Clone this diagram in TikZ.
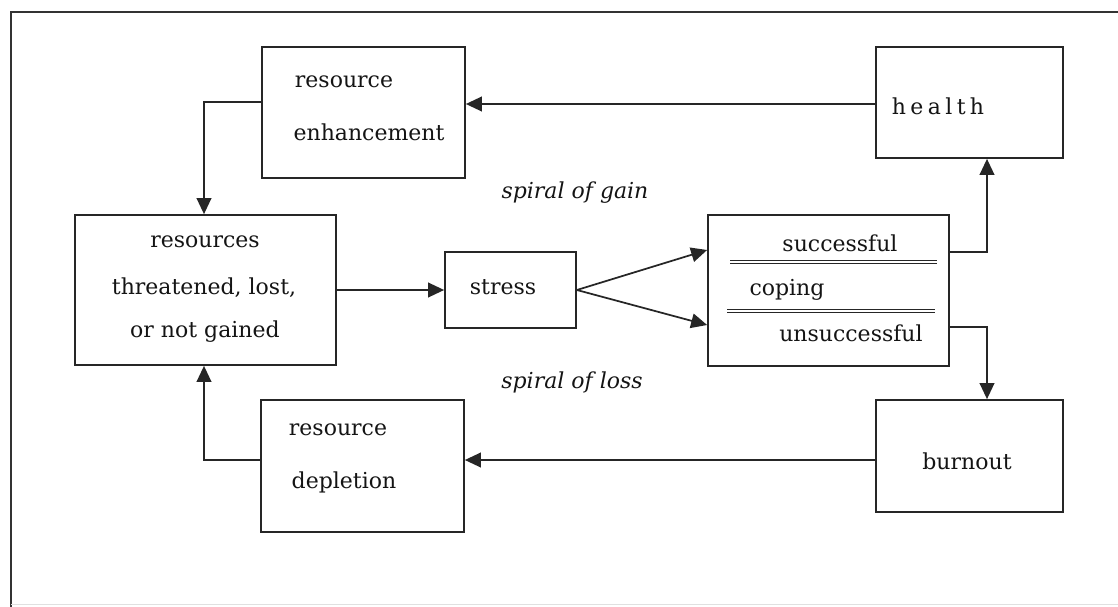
\documentclass[tikz,border=0pt]{standalone}
\usepackage{fontspec}
\setmainfont{DejaVu Serif}
\usetikzlibrary{arrows.meta}
\begin{document}
\begin{tikzpicture}[x=0.75pt,y=-0.75pt,
  box/.style={draw=black!85, line width=1.3pt, rectangle, inner sep=0pt},
  lbl/.style={font=\fontsize{16.5}{19}\selectfont, text=black!92, inner sep=0pt, anchor=center},
  spir/.style={font=\fontsize{16.5}{19}\selectfont\itshape, text=black!92, inner sep=0pt},
  conn/.style={draw=black!85, line width=1.3pt},
  arr/.style={conn, -{Triangle[length=12pt,width=11pt]}},
  dbl/.style={draw=black!85, line width=0.8pt, double distance=1.2pt}
]
\useasboundingbox (0,0) rectangle (1118,607);
% outer frame
\draw[line width=1.4pt, draw=black!80] (11,607) -- (11,12) -- (1118,12);
\draw[line width=0.6pt, draw=black!12] (11,604) -- (1118,604);

% boxes
\node[box, minimum width=203*0.75pt, minimum height=131*0.75pt] (enh) at (363.5,112.5) {};
\node[box, minimum width=187*0.75pt, minimum height=111*0.75pt] (health) at (969.5,102.5) {};
\node[box, minimum width=261*0.75pt, minimum height=150*0.75pt] (res) at (205.5,290) {};
\node[box, minimum width=131*0.75pt, minimum height=76*0.75pt] (stress) at (510.5,290) {};
\node[box, minimum width=241*0.75pt, minimum height=151*0.75pt] (cop) at (828.5,290.5) {};
\node[box, minimum width=187*0.75pt, minimum height=112*0.75pt] (burn) at (969.5,456) {};
\node[box, minimum width=203*0.75pt, minimum height=132*0.75pt] (dep) at (362.5,466) {};

% texts
\node[lbl] (t1) at (344,82) {resource};
\node[lbl] (t2) at (369,132) {enhancement};
\node[lbl] (t3) at (938,106) {\addfontfeature{LetterSpace=20}health};
\node[lbl] (t4) at (205,242) {resources};
\node[lbl] (t5) at (204,288) {threatened, lost,};
\node[lbl] (t6) at (205,332) {or not gained};
\node[lbl] (t7) at (503,287) {stress};
\node[lbl] (t8) at (840,243) {successful};
\node[lbl] (t9) at (787,290) {coping};
\node[lbl] (t10) at (851,333) {unsuccessful};
\node[lbl] (t11) at (967,461) {burnout};
\node[lbl] (t12) at (338,430) {resource};
\node[lbl] (t13) at (344,482) {depletion};
\node[spir] (s1) at (575,193) {spiral of gain};
\node[spir] (s2) at (572,382) {spiral of loss};

% double lines in coping box
\draw[dbl] (730,262) -- (937,262);
\draw[dbl] (727,311) -- (935,311);

% connectors
\draw[arr] (health.west |- 0,104) -- (enh.east |- 0,104);
\draw[arr] (enh.west |- 0,102) -| (res.north -| 204,0);
\draw[arr] (res.east) -- (stress.west);
\draw[arr] (stress.east) -- (cop.west |- 0,250);
\draw[arr] (stress.east) -- (cop.west |- 0,325);
\draw[arr] (cop.east |- 0,252) -| (health.south -| 987,0);
\draw[arr] (cop.east |- 0,327) -| (burn.north -| 987,0);
\draw[arr] (burn.west |- 0,460) -- (dep.east |- 0,460);
\draw[arr] (dep.west |- 0,460) -| (res.south -| 204,0);
\end{tikzpicture}
\end{document}
